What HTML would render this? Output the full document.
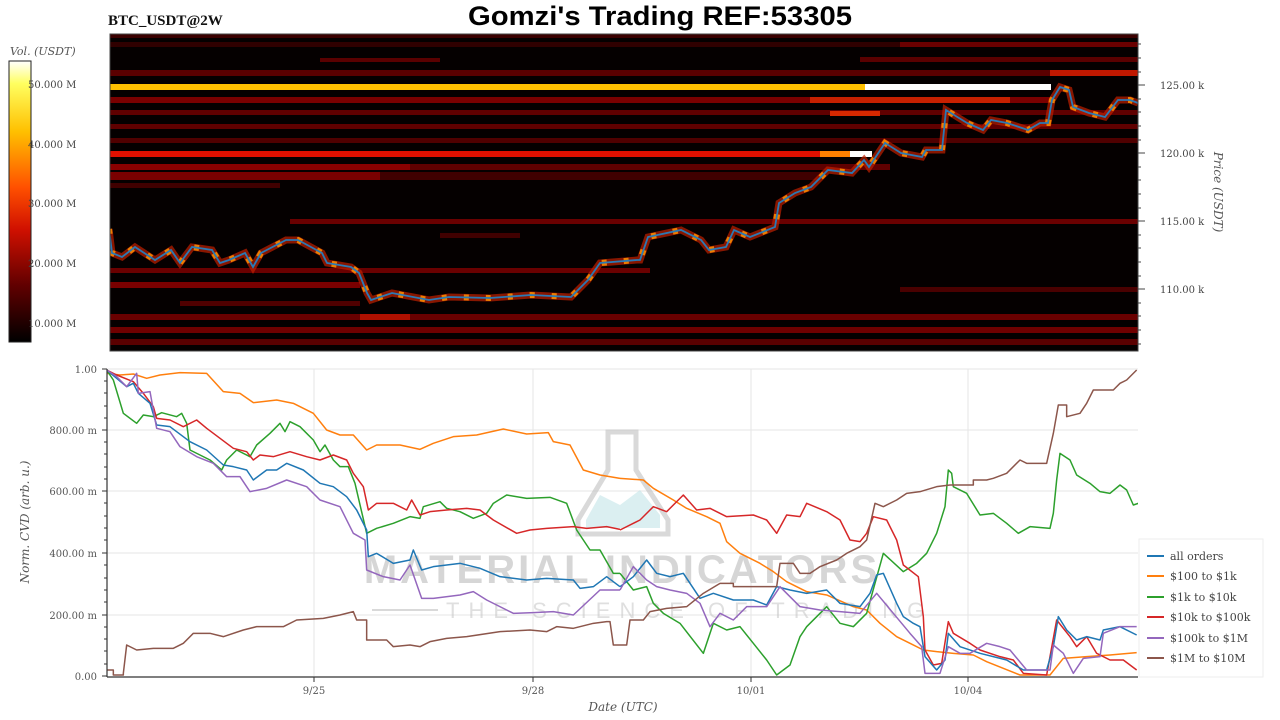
<!DOCTYPE html>
<html><head><meta charset="utf-8"><style>
html,body{margin:0;padding:0;background:#fff;width:1280px;height:720px;overflow:hidden}
svg{display:block}
</style></head><body>
<svg width="1280" height="720" viewBox="0 0 1280 720" xmlns="http://www.w3.org/2000/svg" font-family="'DejaVu Serif', 'Liberation Serif', serif">
<defs>
<linearGradient id="cb" x1="0" y1="0" x2="0" y2="1">
<stop offset="0" stop-color="#ffffff"/>
<stop offset="0.08" stop-color="#ffff60"/>
<stop offset="0.25" stop-color="#ffc000"/>
<stop offset="0.45" stop-color="#ff5000"/>
<stop offset="0.6" stop-color="#d01000"/>
<stop offset="0.8" stop-color="#600000"/>
<stop offset="1" stop-color="#000000"/>
</linearGradient>
<clipPath id="hm"><rect x="110" y="34" width="1028" height="317"/></clipPath>
<clipPath id="lc"><rect x="107" y="367" width="1031" height="312"/></clipPath>
</defs>

<text x="108" y="25" font-size="15" font-weight="bold" fill="#111" font-family="'Liberation Serif', serif">BTC_USDT@2W</text>
<text x="660" y="25" font-size="27" font-weight="bold" fill="#000" text-anchor="middle" font-family="'Liberation Sans', sans-serif" textLength="384" lengthAdjust="spacingAndGlyphs">Gomzi's Trading REF:53305</text>

<!-- colorbar -->
<text x="10" y="55" font-size="11" font-style="italic" fill="#555">Vol. (USDT)</text>
<rect x="9" y="61" width="22" height="281" fill="url(#cb)" stroke="#222" stroke-width="1"/>
<g font-size="10" fill="#444">
<text x="28" y="88">50.000 M</text>
<text x="28" y="148">40.000 M</text>
<text x="28" y="207">30.000 M</text>
<text x="28" y="267">20.000 M</text>
<text x="28" y="327">10.000 M</text>
</g>

<!-- heatmap -->
<g clip-path="url(#hm)">
<rect x="110" y="34" width="1028" height="317" fill="#050000"/>
<rect x="110" y="34" width="1028" height="4" fill="#3a0000"/>
<rect x="110" y="42" width="1028" height="5" fill="#300000"/>
<rect x="900" y="42" width="238" height="5" fill="#6a0000"/>
<rect x="320" y="58" width="120" height="4" fill="#5a0000"/>
<rect x="860" y="57" width="278" height="5" fill="#5a0000"/>
<rect x="110" y="70" width="1028" height="6" fill="#5a0000"/>
<rect x="1050" y="70" width="88" height="6" fill="#c01800"/>
<rect x="110" y="84" width="755" height="6" fill="#ffc000"/>
<rect x="865" y="84" width="186" height="6" fill="#ffffff"/>
<rect x="110" y="97" width="940" height="6" fill="#7a0000"/>
<rect x="810" y="97" width="200" height="6" fill="#c82000"/>
<rect x="110" y="110" width="1028" height="5" fill="#600000"/>
<rect x="830" y="111" width="50" height="5" fill="#d82800"/>
<rect x="110" y="124" width="1028" height="5" fill="#600000"/>
<rect x="110" y="138" width="1028" height="5" fill="#500000"/>
<rect x="110" y="151" width="710" height="6" fill="#e01000"/>
<rect x="820" y="151" width="30" height="6" fill="#ff8000"/>
<rect x="850" y="151" width="22" height="6" fill="#ffffff"/>
<rect x="110" y="164" width="300" height="6" fill="#8a0000"/>
<rect x="410" y="164" width="480" height="6" fill="#600000"/>
<rect x="110" y="172" width="270" height="8" fill="#7a0000"/>
<rect x="380" y="172" width="440" height="8" fill="#400000"/>
<rect x="110" y="183" width="170" height="5" fill="#400000"/>
<rect x="290" y="219" width="848" height="5" fill="#6a0000"/>
<rect x="440" y="233" width="80" height="5" fill="#400000"/>
<rect x="110" y="268" width="540" height="5" fill="#6a0000"/>
<rect x="110" y="282" width="250" height="6" fill="#7a0000"/>
<rect x="900" y="287" width="238" height="5" fill="#4a0000"/>
<rect x="180" y="301" width="180" height="5" fill="#500000"/>
<rect x="110" y="314" width="1028" height="6" fill="#6a0000"/>
<rect x="360" y="314" width="50" height="6" fill="#b01000"/>
<rect x="110" y="327" width="1028" height="6" fill="#700000"/>
<rect x="110" y="339" width="1028" height="6" fill="#5a0000"/>
<!-- hot cells along price -->
<polyline fill="none" stroke="#c02000" stroke-width="7" opacity="0.7" points="109,229 112,253 122,257 135,247 155,260 171,250 180,263 192,247 212,250 220,263 229,260 245,253 253,267 261,253 286,240 298,240 322,253 327,263 351,267 359,273 367,293 371,300 392,293 429,300 449,297 490,298 531,295 571,297 588,280 600,263 637,260 640,260 648,237 681,230 701,240 709,250 726,247 734,230 750,237 775,227 779,203 795,193 811,187 828,170 852,173 864,160 869,167 885,143 901,153 922,157 926,150 942,150 946,110 967,123 983,130 991,120 1007,123 1028,130 1040,123 1048,123 1052,100 1060,87 1069,90 1073,107 1089,113 1105,117 1118,100 1130,100 1138,103"/>
<polyline fill="none" stroke="#ff9000" stroke-width="6" opacity="0.85" stroke-dasharray="5 17" points="109,229 112,253 122,257 135,247 155,260 171,250 180,263 192,247 212,250 220,263 229,260 245,253 253,267 261,253 286,240 298,240 322,253 327,263 351,267 359,273 367,293 371,300 392,293 429,300 449,297 490,298 531,295 571,297 588,280 600,263 637,260 640,260 648,237 681,230 701,240 709,250 726,247 734,230 750,237 775,227 779,203 795,193 811,187 828,170 852,173 864,160 869,167 885,143 901,153 922,157 926,150 942,150 946,110 967,123 983,130 991,120 1007,123 1028,130 1040,123 1048,123 1052,100 1060,87 1069,90 1073,107 1089,113 1105,117 1118,100 1130,100 1138,103"/>
<polyline fill="none" stroke="#2a7ab5" stroke-width="1.8" points="109,229 112,253 122,257 135,247 155,260 171,250 180,263 192,247 212,250 220,263 229,260 245,253 253,267 261,253 286,240 298,240 322,253 327,263 351,267 359,273 367,293 371,300 392,293 429,300 449,297 490,298 531,295 571,297 588,280 600,263 637,260 640,260 648,237 681,230 701,240 709,250 726,247 734,230 750,237 775,227 779,203 795,193 811,187 828,170 852,173 864,160 869,167 885,143 901,153 922,157 926,150 942,150 946,110 967,123 983,130 991,120 1007,123 1028,130 1040,123 1048,123 1052,100 1060,87 1069,90 1073,107 1089,113 1105,117 1118,100 1130,100 1138,103"/>
</g>
<rect x="110" y="34" width="1028" height="317" fill="none" stroke="#444" stroke-width="1"/>
<!-- price axis -->
<g stroke="#444" stroke-width="1">
<line x1="1138" y1="85" x2="1145" y2="85"/><line x1="1138" y1="153" x2="1145" y2="153"/><line x1="1138" y1="221" x2="1145" y2="221"/><line x1="1138" y1="289" x2="1145" y2="289"/>
<line x1="1138" y1="44" x2="1141" y2="44"/><line x1="1138" y1="58" x2="1141" y2="58"/><line x1="1138" y1="72" x2="1141" y2="72"/><line x1="1138" y1="99" x2="1141" y2="99"/><line x1="1138" y1="112" x2="1141" y2="112"/><line x1="1138" y1="126" x2="1141" y2="126"/><line x1="1138" y1="140" x2="1141" y2="140"/><line x1="1138" y1="167" x2="1141" y2="167"/><line x1="1138" y1="180" x2="1141" y2="180"/><line x1="1138" y1="194" x2="1141" y2="194"/><line x1="1138" y1="208" x2="1141" y2="208"/><line x1="1138" y1="235" x2="1141" y2="235"/><line x1="1138" y1="248" x2="1141" y2="248"/><line x1="1138" y1="262" x2="1141" y2="262"/><line x1="1138" y1="276" x2="1141" y2="276"/><line x1="1138" y1="303" x2="1141" y2="303"/><line x1="1138" y1="316" x2="1141" y2="316"/><line x1="1138" y1="330" x2="1141" y2="330"/><line x1="1138" y1="344" x2="1141" y2="344"/>
</g>
<g font-size="10" fill="#444">
<text x="1160" y="89">125.00 k</text>
<text x="1160" y="157">120.00 k</text>
<text x="1160" y="225">115.00 k</text>
<text x="1160" y="293">110.00 k</text>
</g>
<text transform="translate(1214,192) rotate(90)" font-size="12" font-style="italic" fill="#555" text-anchor="middle">Price (USDT)</text>

<!-- lower chart grid -->
<g stroke="#e6e6e6" stroke-width="1">
<line x1="107" y1="430" x2="1138" y2="430"/><line x1="107" y1="491" x2="1138" y2="491"/><line x1="107" y1="553" x2="1138" y2="553"/><line x1="107" y1="615" x2="1138" y2="615"/><line x1="107" y1="369" x2="1138" y2="369"/>
<line x1="314" y1="369" x2="314" y2="676"/><line x1="533" y1="369" x2="533" y2="676"/><line x1="751" y1="369" x2="751" y2="676"/><line x1="968" y1="369" x2="968" y2="676"/>
</g>

<!-- watermark -->
<g opacity="0.55">
<path d="M608,432 L636,432 L636,470 L668,520 L668,534 L578,534 L578,520 L608,470 Z" fill="none" stroke="#bbb" stroke-width="5"/>
<path d="M586,520 L600,495 L620,505 L640,490 L660,515 L660,528 L586,528 Z" fill="#bfe3e6"/>
<text x="622" y="583" font-size="40" font-weight="bold" fill="#b5b5b5" text-anchor="middle" letter-spacing="3" font-family="'Liberation Sans', sans-serif">MATERIAL INDICATORS</text>
<line x1="372" y1="610" x2="438" y2="610" stroke="#bbb" stroke-width="2"/>
<text x="446" y="618" font-size="22" fill="#c5c5c5" letter-spacing="9" font-family="'Liberation Sans', sans-serif">THE SCIENCE OF TRADING</text>
</g>

<!-- series -->
<g clip-path="url(#lc)" fill="none" stroke-width="1.5" stroke-linejoin="round">
<g transform="translate(100,360) scale(0.33333)">
<polyline vector-effect="non-scaling-stroke" stroke="#ff7f0e" points="20,40 60,45 100,42 140,55 180,45 240,38 320,40 370,95 420,100 460,128 530,120 580,130 640,160 680,210 720,225 760,225 800,270 830,255 900,255 960,268 1000,250 1060,230 1130,225 1210,207 1280,222 1345,218 1360,245 1410,255 1450,330 1500,345 1560,355"/>
<polyline vector-effect="non-scaling-stroke" stroke="#2ca02c" points="20,30 40,60 70,160 110,190 130,165 160,170 185,158 230,170 245,160 260,190 270,270 330,300 365,330 380,300 410,270 450,290 470,255 510,220 540,190 555,215 570,185 600,200 640,240 660,275 675,255 700,300 720,320 745,320 765,370 800,520 830,505 880,490 930,470 960,475 970,440 1020,425 1040,445 1080,455 1120,475 1160,460 1180,430 1220,405 1280,415 1350,412 1400,430 1430,510 1470,570 1500,570 1540,640 1560,640"/>
<polyline vector-effect="non-scaling-stroke" stroke="#d62728" points="20,30 50,45 100,65 130,100 160,140 170,175 210,180 250,200 290,180 320,205 360,235 400,265 440,275 460,300 480,285 520,290 570,275 620,290 660,300 700,285 740,300 760,340 790,380 805,450 830,430 880,430 920,450 935,420 960,465 990,455 1040,450 1100,445 1140,450 1180,480 1250,520 1290,510 1340,505 1420,500 1460,505 1520,500 1560,508"/>
<polyline vector-effect="non-scaling-stroke" stroke="#1f77b4" points="20,30 50,55 80,80 100,70 115,100 150,130 170,195 210,200 250,230 270,245 320,270 370,315 400,320 440,330 460,360 500,330 530,330 560,310 610,330 660,370 700,380 740,410 770,450 800,510 805,590 830,580 880,610 930,600 940,570 965,630 1000,620 1080,610 1140,625 1200,650 1280,660 1340,655 1420,660 1440,685 1480,680 1520,650 1560,680"/>
<polyline vector-effect="non-scaling-stroke" stroke="#9467bd" points="20,30 50,50 80,80 110,40 115,100 150,95 170,205 210,215 240,260 290,290 340,310 380,350 420,350 450,395 500,385 560,360 620,380 660,420 720,440 760,520 795,540 800,630 850,650 900,660 930,615 965,715 1000,715 1080,705 1120,695 1160,720 1240,760 1300,758 1360,755 1420,765 1500,690 1560,690"/>
<polyline vector-effect="non-scaling-stroke" stroke="#8c564b" points="20,930 40,930 40,945 70,945 70,940 80,855 110,870 160,865 220,865 250,850 280,820 330,820 370,830 430,810 470,800 550,800 590,780 670,775 720,765 760,755 770,780 800,780 800,840 860,840 880,860 930,855 960,860 990,845 1040,835 1100,830 1200,815 1290,810 1340,815 1370,800 1420,805 1480,790 1520,785 1530,785 1540,855 1560,855"/>
</g>
<g transform="translate(620,360) scale(0.33333)">
<polyline vector-effect="non-scaling-stroke" stroke="#ff7f0e" points="0,355 70,360 100,385 160,420 200,445 260,470 300,490 320,545 360,580 420,610 460,635 500,665 560,695 620,705 700,740 740,750 780,790 830,830 870,850 910,870 950,875 1000,880 1060,885 1100,905 1200,945 1290,945 1330,895 1400,890 1470,885 1550,878"/>
<polyline vector-effect="non-scaling-stroke" stroke="#2ca02c" points="0,640 40,690 80,680 100,730 130,760 180,790 250,880 280,790 320,810 360,800 400,850 440,900 470,945 510,915 540,830 560,800 620,740 660,790 700,800 740,760 790,580 850,635 890,610 920,580 950,520 975,440 985,330 995,340 1000,380 1040,400 1080,465 1120,460 1160,490 1195,520 1230,500 1290,505 1300,460 1310,360 1320,280 1350,300 1370,345 1410,370 1440,395 1470,400 1500,375 1520,390 1540,435 1555,430"/>
<polyline vector-effect="non-scaling-stroke" stroke="#d62728" points="0,510 40,490 60,480 100,440 140,455 190,405 230,450 270,445 320,470 400,465 440,480 470,520 500,465 540,470 560,430 620,455 660,480 690,540 720,545 740,520 760,470 800,480 830,540 850,615 895,650 910,770 915,870 940,915 965,910 985,785 1000,820 1050,850 1080,870 1140,890 1180,900 1210,940 1280,945 1310,780 1350,830 1370,860 1400,830 1430,880 1470,900 1510,900 1550,930"/>
<polyline vector-effect="non-scaling-stroke" stroke="#1f77b4" points="0,680 40,650 80,600 110,640 150,650 190,640 240,715 280,700 340,720 400,720 440,735 470,680 510,690 560,700 620,690 660,730 720,740 750,700 770,645 790,640 830,730 850,770 880,790 900,800 915,890 950,930 975,900 985,820 1020,860 1080,880 1160,900 1210,930 1280,930 1300,860 1315,770 1340,810 1370,840 1400,830 1440,840 1450,810 1500,800 1550,825"/>
<polyline vector-effect="non-scaling-stroke" stroke="#9467bd" points="0,690 40,620 80,660 110,680 150,690 200,700 240,730 270,800 300,760 340,780 380,740 440,740 480,680 540,740 600,750 660,755 720,760 770,700 820,760 870,820 905,860 915,940 960,940 985,860 1020,880 1050,880 1100,850 1140,860 1170,870 1220,930 1290,930 1300,855 1330,880 1360,940 1390,895 1440,890 1450,820 1500,800 1550,800"/>
<polyline vector-effect="non-scaling-stroke" stroke="#8c564b" points="0,855 20,855 30,780 70,780 90,755 140,745 200,740 250,700 300,670 340,670 340,680 400,680 470,680 480,610 520,610 540,640 570,640 600,620 650,600 680,580 720,560 740,540 765,430 790,440 830,420 860,400 900,395 950,380 990,375 1060,375 1060,360 1100,360 1120,355 1160,340 1200,300 1220,310 1280,310 1300,220 1315,135 1340,135 1340,170 1380,160 1400,130 1420,90 1460,90 1480,90 1500,70 1520,60 1550,30"/>
</g>
</g>

<!-- lower axes -->
<line x1="107" y1="369" x2="107" y2="677" stroke="#333" stroke-width="1.2"/>
<line x1="107" y1="677" x2="1138" y2="677" stroke="#333" stroke-width="1.2"/>
<g stroke="#333" stroke-width="1">
<line x1="102" y1="369" x2="107" y2="369"/><line x1="102" y1="430" x2="107" y2="430"/><line x1="102" y1="491" x2="107" y2="491"/><line x1="102" y1="553" x2="107" y2="553"/><line x1="102" y1="615" x2="107" y2="615"/><line x1="102" y1="676" x2="107" y2="676"/>
<line x1="314" y1="677" x2="314" y2="682"/><line x1="533" y1="677" x2="533" y2="682"/><line x1="751" y1="677" x2="751" y2="682"/><line x1="968" y1="677" x2="968" y2="682"/>
</g>
<g stroke="#333" stroke-width="1">
<line x1="104" y1="381" x2="107" y2="381"/><line x1="104" y1="393" x2="107" y2="393"/><line x1="104" y1="406" x2="107" y2="406"/><line x1="104" y1="418" x2="107" y2="418"/>
<line x1="104" y1="442" x2="107" y2="442"/><line x1="104" y1="454" x2="107" y2="454"/><line x1="104" y1="467" x2="107" y2="467"/><line x1="104" y1="479" x2="107" y2="479"/>
<line x1="104" y1="503" x2="107" y2="503"/><line x1="104" y1="516" x2="107" y2="516"/><line x1="104" y1="528" x2="107" y2="528"/><line x1="104" y1="540" x2="107" y2="540"/>
<line x1="104" y1="565" x2="107" y2="565"/><line x1="104" y1="578" x2="107" y2="578"/><line x1="104" y1="590" x2="107" y2="590"/><line x1="104" y1="602" x2="107" y2="602"/>
<line x1="104" y1="627" x2="107" y2="627"/><line x1="104" y1="639" x2="107" y2="639"/><line x1="104" y1="651" x2="107" y2="651"/><line x1="104" y1="664" x2="107" y2="664"/>
</g>
<g font-size="10" fill="#555" text-anchor="end">
<text x="97" y="373">1.00</text>
<text x="97" y="434">800.00 m</text>
<text x="97" y="495">600.00 m</text>
<text x="97" y="557">400.00 m</text>
<text x="97" y="619">200.00 m</text>
<text x="97" y="680">0.00</text>
</g>
<g font-size="10" fill="#555" text-anchor="middle">
<text x="314" y="694">9/25</text>
<text x="533" y="694">9/28</text>
<text x="751" y="694">10/01</text>
<text x="968" y="694">10/04</text>
</g>
<text x="623" y="711" font-size="12" font-style="italic" fill="#555" text-anchor="middle">Date (UTC)</text>
<text transform="translate(29,522) rotate(-90)" font-size="12" font-style="italic" fill="#555" text-anchor="middle">Norm. CVD (arb. u.)</text>

<!-- legend -->
<rect x="1139" y="539" width="124" height="138" fill="#fff" stroke="#eee" stroke-width="1"/>
<g stroke-width="2">
<line x1="1147" y1="556" x2="1164" y2="556" stroke="#1f77b4"/>
<line x1="1147" y1="576" x2="1164" y2="576" stroke="#ff7f0e"/>
<line x1="1147" y1="597" x2="1164" y2="597" stroke="#2ca02c"/>
<line x1="1147" y1="617" x2="1164" y2="617" stroke="#d62728"/>
<line x1="1147" y1="638" x2="1164" y2="638" stroke="#9467bd"/>
<line x1="1147" y1="658" x2="1164" y2="658" stroke="#8c564b"/>
</g>
<g font-size="11" fill="#444">
<text x="1170" y="560">all orders</text>
<text x="1170" y="580">$100 to $1k</text>
<text x="1170" y="601">$1k to $10k</text>
<text x="1170" y="621">$10k to $100k</text>
<text x="1170" y="642">$100k to $1M</text>
<text x="1170" y="662">$1M to $10M</text>
</g>
</svg>
</body></html>
